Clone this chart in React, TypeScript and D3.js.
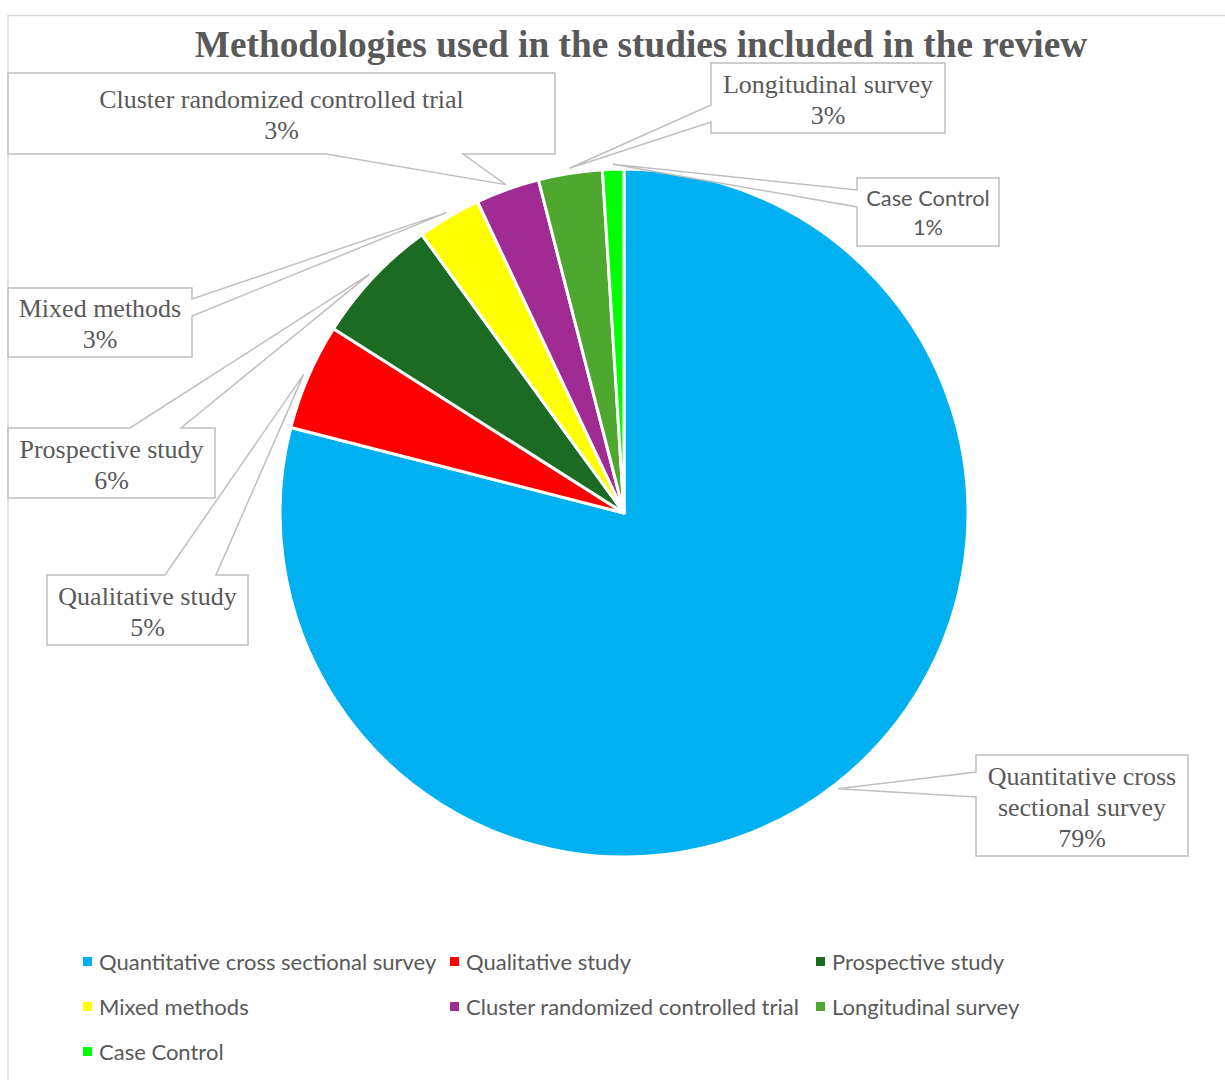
import React from "react";
import * as d3 from "d3";

const categories = [
  "Quantitative cross sectional survey",
  "Qualitative study",
  "Prospective study",
  "Mixed methods",
  "Cluster randomized controlled trial",
  "Longitudinal survey",
  "Case Control",
];
const values = [79, 5, 6, 3, 3, 3, 1];
const colors = ["#00B0F0", "#FF0000", "#1B6B23", "#FFFF00", "#A02B93", "#4EA72E", "#00FF00"];
const labelNameLines = [
  ["Quantitative cross", "sectional survey"],
  ["Qualitative study"],
  ["Prospective study"],
  ["Mixed methods"],
  ["Cluster randomized controlled trial"],
  ["Longitudinal survey"],
  ["Case Control"],
];
const title = "Methodologies used in the studies included in the review";

// callout layout (positions only)
const callouts = [
  { x: 976, y: 755, w: 212, h: 101, side: "left", a: 772, b: 797, sans: false },
  { x: 47, y: 575, w: 201, h: 70, side: "top", a: 165, b: 216, sans: false },
  { x: 8, y: 428, w: 207, h: 70, side: "top", a: 130, b: 181, sans: false },
  { x: 8, y: 288, w: 184, h: 69, side: "right", a: 299, b: 316, sans: false },
  { x: 8, y: 73, w: 547, h: 81, side: "bottom", a: 326, b: 463, sans: false },
  { x: 711, y: 63, w: 234, h: 70, side: "left", a: 105, b: 122, sans: false },
  { x: 857, y: 178, w: 142, h: 68, side: "left", a: 190, b: 207, sans: true },
];

const W = 1225;
const H = 1080;
const cx = 624;
const cy = 513;
const R = 344;
const serif = "'Liberation Serif', 'Times New Roman', serif";
const sans = "Lato, 'Noto Sans', sans-serif";
const textColor = "#595959";

function calloutPath(c: any, tip: [number, number]) {
  const { x, y, w, h, side, a, b } = c;
  const [tx, ty] = tip;
  if (side === "left")
    return `M${x},${y}L${x + w},${y}L${x + w},${y + h}L${x},${y + h}L${x},${b}L${tx},${ty}L${x},${a}Z`;
  if (side === "right")
    return `M${x},${y}L${x + w},${y}L${x + w},${a}L${tx},${ty}L${x + w},${b}L${x + w},${y + h}L${x},${y + h}Z`;
  if (side === "top")
    return `M${x},${y}L${a},${y}L${tx},${ty}L${b},${y}L${x + w},${y}L${x + w},${y + h}L${x},${y + h}Z`;
  return `M${x},${y}L${x + w},${y}L${x + w},${y + h}L${b},${y + h}L${tx},${ty}L${a},${y + h}L${x},${y + h}Z`;
}

export default function App() {
  const total = d3.sum(values);
  const pie = d3.pie<number>().sort(null).value((d) => d);
  const arcs = pie(values);
  const arc = d3.arc<any>().innerRadius(0).outerRadius(R);
  const tipArc = d3.arc<any>().innerRadius(R + 5).outerRadius(R + 5);
  const color = d3.scaleOrdinal<string, string>().domain(categories).range(colors);

  const legendCols = [83, 450, 816];
  const legendRows = [962, 1007, 1052];

  return (
    <svg width={W} height={H} style={{ position: "absolute", left: 0, top: 0 }}>
      <rect x={0} y={0} width={W} height={H} fill="#fff" />
      <rect x={8} y={15.5} width={1300} height={1200} fill="#fff" stroke="#D9D9D9" strokeWidth={1.5} />
      <text x={641} y={57} textAnchor="middle" fontFamily={serif} fontWeight="bold" fontSize={37.3} fill={textColor}>
        {title}
      </text>
      <g transform={`translate(${cx},${cy})`}>
        {arcs.map((d, i) => (
          <path key={i} d={arc(d) as string} fill={color(categories[i])} stroke="#fff" strokeWidth={3} strokeLinejoin="round" />
        ))}
      </g>
      {arcs.map((d, i) => {
        const c = callouts[i];
        const [tx, ty] = tipArc.centroid(d);
        const tip: [number, number] = [tx + cx, ty + cy];
        const lines = [...labelNameLines[i], `${Math.round((values[i] / total) * 100)}%`];
        const lh = c.sans ? 29 : 31;
        const off = c.sans ? 8.5 : 10;
        const mid = c.y + c.h / 2;
        const first = mid - ((lines.length - 1) * lh) / 2 + off;
        return (
          <g key={i}>
            <path d={calloutPath(c, tip)} fill="#fff" stroke="#BFBFBF" strokeWidth={1.5} strokeLinejoin="miter" />
            {lines.map((t, j) => (
              <text
                key={j}
                x={c.x + c.w / 2}
                y={first + j * lh}
                textAnchor="middle"
                fontFamily={c.sans ? sans : serif}
                fontSize={c.sans ? 21.8 : 26}
                fill={textColor}
              >
                {t}
              </text>
            ))}
          </g>
        );
      })}
      {categories.map((cat, i) => {
        const x = legendCols[i % 3];
        const y = legendRows[Math.floor(i / 3)];
        return (
          <g key={cat}>
            <rect x={x} y={y - 5} width={9} height={9} fill={color(cat)} />
            <text x={x + 16} y={y + 7.5} fontFamily={sans} fontSize={22} fill={textColor}>
              {cat}
            </text>
          </g>
        );
      })}
    </svg>
  );
}
